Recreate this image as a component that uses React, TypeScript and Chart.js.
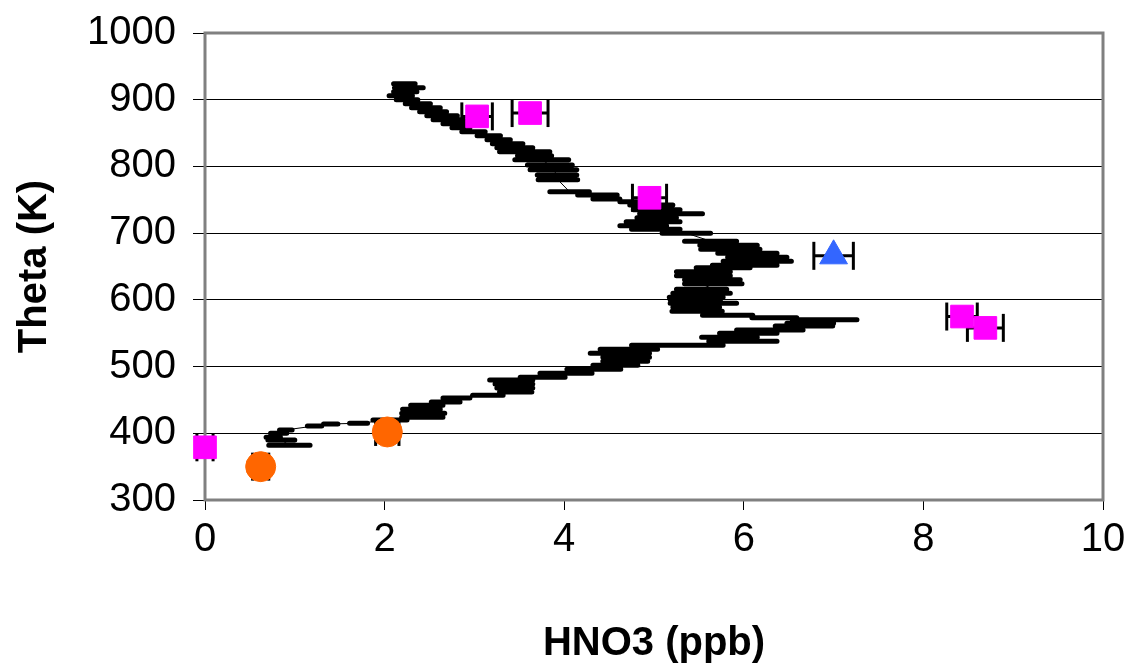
import { useEffect, useRef } from 'react';
import { Chart, registerables } from 'chart.js';
Chart.register(...registerables);

// Profile (black thick horizontal bars): theta (K), HNO3 centre (ppb), half-width (ppb)
const profileTheta = [924, 918, 912, 906, 900, 894, 888, 882, 876, 870, 864, 858, 852, 846, 840, 834, 828, 822, 816, 810, 802, 795, 787, 780, 762, 757, 751, 747, 742, 735, 729, 723, 717, 711, 706, 700, 688, 682, 676, 670, 664, 658, 652, 648, 642, 636, 630, 624, 616, 610, 604, 600, 595, 589, 583, 577, 573, 570, 565, 561, 555, 550, 544, 538, 532, 526, 520, 514, 508, 502, 496, 490, 484, 480, 474, 468, 462, 457, 453, 447, 442, 436, 430, 424, 420, 415, 414, 411, 405, 400, 394, 390, 382];
const profileHNO3 = [2.22, 2.27, 2.23, 2.18, 2.25, 2.37, 2.46, 2.54, 2.64, 2.71, 2.78, 2.85, 2.99, 3.16, 3.27, 3.37, 3.45, 3.56, 3.67, 3.75, 3.84, 3.88, 3.92, 3.93, 4.06, 4.37, 4.47, 4.73, 4.97, 5.03, 5.19, 5.03, 4.99, 4.88, 5.02, 5.36, 5.63, 5.83, 5.85, 6.04, 6.15, 6.15, 6.01, 5.77, 5.55, 5.55, 5.65, 5.66, 5.53, 5.53, 5.47, 5.46, 5.55, 5.47, 5.48, 5.82, 6.34, 6.9, 6.74, 6.67, 6.29, 6.05, 5.84, 5.99, 5.26, 4.72, 4.62, 4.69, 4.68, 4.57, 4.33, 4.02, 3.76, 3.41, 3.44, 3.45, 3.46, 3.15, 2.8, 2.68, 2.47, 2.41, 2.43, 2.42, 2.06, 1.71, 1.4, 1.22, 0.9, 0.82, 0.76, 0.85, 0.94];
const profileErr = [0.12, 0.16, 0.13, 0.13, 0.12, 0.14, 0.16, 0.15, 0.17, 0.17, 0.13, 0.1, 0.13, 0.13, 0.13, 0.17, 0.2, 0.28, 0.19, 0.3, 0.25, 0.26, 0.22, 0.22, 0.22, 0.22, 0.15, 0.11, 0.24, 0.26, 0.35, 0.22, 0.3, 0.26, 0.27, 0.27, 0.29, 0.32, 0.33, 0.33, 0.33, 0.38, 0.36, 0.3, 0.3, 0.3, 0.31, 0.32, 0.28, 0.32, 0.3, 0.28, 0.37, 0.26, 0.28, 0.28, 0.25, 0.36, 0.26, 0.32, 0.37, 0.32, 0.31, 0.38, 0.51, 0.32, 0.33, 0.26, 0.25, 0.25, 0.3, 0.29, 0.25, 0.24, 0.21, 0.2, 0.18, 0.17, 0.15, 0.16, 0.18, 0.21, 0.24, 0.23, 0.19, 0.1, 0.08, 0.08, 0.07, 0.09, 0.08, 0.15, 0.23];

// Pink squares
const squaresX = [0, 3.03, 3.62, 4.95, 8.43, 8.69];
const squaresY = [379, 875, 880, 753, 575, 558];
const squaresErr = [0.09, 0.17, 0.2, 0.19, 0.17, 0.2];

// Orange circles
const circlesX = [0.62, 2.03];
const circlesY = [350, 402];
const circlesErr = [0.09, 0.13];

// Blue triangle
const triangleX = [7.0];
const triangleY = [666];
const triangleErr = [0.22];

const xTicks = [0, 2, 4, 6, 8, 10];
const yTicks = [300, 400, 500, 600, 700, 800, 900, 1000];

const FONT = '"Liberation Sans", Arial, sans-serif';

const framePlugin = {
  id: 'frame',
  beforeDatasetsDraw(chart: any) {
    const { ctx, chartArea } = chart;
    const { left, top, right, bottom } = chartArea;
    ctx.save();
    ctx.strokeStyle = '#808080';
    ctx.lineWidth = 3;
    ctx.strokeRect(left, top, right - left, bottom - top);
    ctx.restore();
  },
};

function segments(xs: number[], ys: number[], es: number[]) {
  const out: any[] = [];
  for (let i = 0; i < xs.length; i++) {
    out.push({ x: xs[i] - es[i], y: ys[i] });
    out.push({ x: xs[i] + es[i], y: ys[i] });
    out.push({ x: null, y: null });
  }
  return out;
}

function caps(xs: number[], ys: number[], es: number[]) {
  const out: any[] = [];
  for (let i = 0; i < xs.length; i++) {
    out.push({ x: xs[i] - es[i], y: ys[i] });
    out.push({ x: xs[i] + es[i], y: ys[i] });
  }
  return out;
}

const pts = (xs: number[], ys: number[]) => xs.map((x, i) => ({ x, y: ys[i] }));

export default function App() {
  const ref = useRef<HTMLCanvasElement>(null);
  useEffect(() => {
    if (!ref.current) return;
    const allX = [...squaresX, ...circlesX, ...triangleX];
    const allY = [...squaresY, ...circlesY, ...triangleY];
    const allE = [...squaresErr, ...circlesErr, ...triangleErr];
    const chart = new Chart(ref.current, {
      type: 'scatter',
      data: {
        datasets: [
          {
            data: pts(squaresX, squaresY),
            pointStyle: 'rect',
            pointRadius: 16,
            backgroundColor: '#FF00FF',
            borderColor: '#FF00FF',
            borderWidth: 1,
            clip: false,
            order: 0,
          } as any,
          {
            data: pts(circlesX, circlesY),
            pointStyle: 'circle',
            pointRadius: 15,
            backgroundColor: '#FF6600',
            borderColor: '#FF6600',
            borderWidth: 1,
            clip: false,
            order: 0,
          },
          {
            data: pts(triangleX, triangleY),
            pointStyle: 'triangle',
            pointRadius: 16,
            backgroundColor: '#3366FF',
            borderColor: '#3366FF',
            borderWidth: 1,
            clip: false,
            order: 0,
          },
          {
            data: caps(allX, allY, allE),
            pointStyle: 'line',
            pointRotation: 90,
            pointRadius: 14,
            borderColor: '#000',
            backgroundColor: '#000',
            pointBorderWidth: 3,
            showLine: false,
            clip: false,
            order: 1,
          },
          {
            data: segments(allX, allY, allE),
            showLine: true,
            spanGaps: false,
            borderColor: '#000',
            borderWidth: 3,
            pointRadius: 0,
            clip: false,
            order: 2,
          },
          {
            data: segments(profileHNO3, profileTheta, profileErr),
            showLine: true,
            spanGaps: false,
            borderColor: '#000',
            borderWidth: 5,
            borderCapStyle: 'round',
            pointRadius: 0,
            order: 3,
          },
          {
            data: pts(profileHNO3, profileTheta),
            showLine: true,
            borderColor: '#000',
            borderWidth: 1,
            pointRadius: 0,
            order: 4,
          },
        ],
      },
      options: {
        animation: false,
        responsive: true,
        maintainAspectRatio: false,
        layout: { padding: { top: 33, right: 24, left: 0, bottom: 0 } },
        plugins: { legend: { display: false }, tooltip: { enabled: false } },
        elements: { line: { tension: 0 } },
        scales: {
          x: {
            type: 'linear',
            min: 0,
            max: 10,
            afterFit: (s: any) => {
              s.height = 166;
              s.paddingLeft = 0;
              s.paddingRight = 0;
            },
            afterBuildTicks: (s: any) => { s.ticks = xTicks.map((v) => ({ value: v })); },
            grid: { drawOnChartArea: false, color: '#000', tickLength: 10, lineWidth: 1 },
            border: { display: false },
            ticks: { color: '#000', font: { family: FONT, size: 40 }, padding: 6, maxRotation: 0, callback: (v: any) => String(v) },
            title: {
              display: true,
              text: 'HNO3 (ppb)',
              color: '#000',
              font: { family: FONT, size: 40, weight: 'bold', lineHeight: 1.1 },
              padding: { top: 0, bottom: 0 },
            },
          },
          y: {
            type: 'linear',
            min: 300,
            max: 1000,
            afterFit: (s: any) => {
              s.width = 205;
              s.paddingTop = 0;
              s.paddingBottom = 0;
            },
            afterBuildTicks: (s: any) => { s.ticks = yTicks.map((v) => ({ value: v })); },
            grid: { color: '#000', tickLength: 12, lineWidth: 1 },
            border: { display: false },
            ticks: { color: '#000', font: { family: FONT, size: 40 }, padding: 17, callback: (v: any) => String(v) },
            title: {
              display: true,
              text: 'Theta (K)',
              color: '#000',
              font: { family: FONT, size: 40, weight: 'bold' },
              padding: { top: 11, bottom: 0 },
            },
          },
        },
      } as any,
      plugins: [framePlugin],
    });
    return () => chart.destroy();
  }, []);
  return (
    <div style={{ position: 'absolute', left: 0, top: 0, width: 1127, height: 666 }}>
      <canvas ref={ref} />
    </div>
  );
}
